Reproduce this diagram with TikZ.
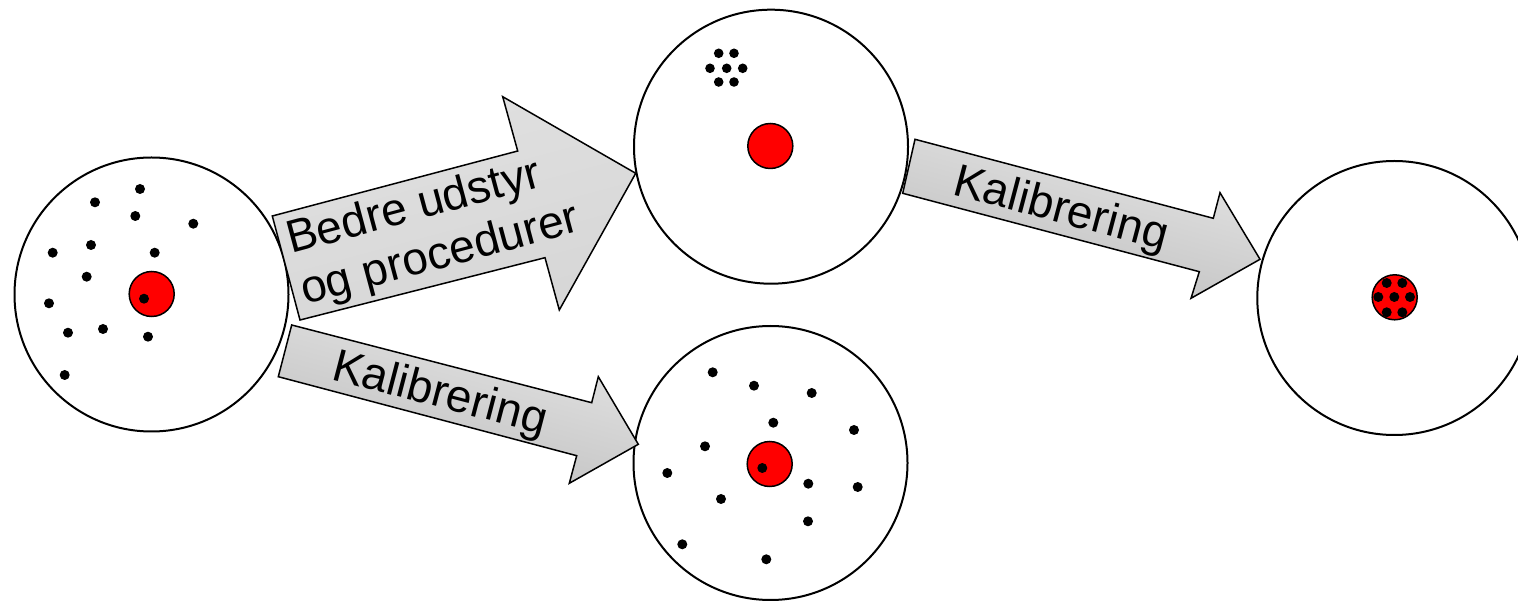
\documentclass[tikz,border=0pt]{standalone}
\usepackage{fontspec}
\setmainfont{Liberation Sans}
\begin{document}
\begin{tikzpicture}[x=1pt,y=1pt,
  target/.style={circle,draw=black,line width=2pt,fill=white,minimum size=274pt,inner sep=0pt},
  bull/.style={circle,draw=black,line width=1.5pt,fill=red,minimum size=45pt,inner sep=0pt},
  hit/.style={fill=black},
  blockarrow/.style={draw=black,line width=1.5pt,line join=miter},
  lbl/.style={inner sep=0pt,font=\fontsize{46}{54}\selectfont,anchor=base west}]
\useasboundingbox (0,0) rectangle (1518,600);
\clip (0,0) rectangle (1518,600);
% targets
\node[target] (c1) at (151.5,305.5) {};
\node[target] (c2) at (771,453.3) {};
\node[target] (c3) at (770.5,137) {};
\node[target] (c4) at (1394.3,302) {};
% bulls
\node[bull] (r1) at (151.7,306) {};
\node[bull] (r2) at (770.3,454) {};
\node[bull] (r3) at (769.7,136) {};
\node[bull] (r4) at (1394.7,302.7) {};
% hits, target 1
\foreach \p in {(140,411),(95,397.7),(135.3,384),(193.3,376.3),(52.7,347.3),(91,355),
  (154.7,347.3),(86.7,323.3),(49,296.7),(68,267.3),(103,271),(148,263.3),(64.7,225),(144,301.3)}
  \fill[hit] \p circle (5);
% hits, target 2 (cluster)
\foreach \p in {(718.7,546.7),(734,546.7),(710,531.7),(726.7,531.7),(742.7,531.7),(718.7,518),(734,518)}
  \fill[hit] \p circle (4.8);
% hits, target 3
\foreach \p in {(712.7,227.7),(754,214.3),(811.7,207),(773.3,177.3),(854,170),(705,153.7),
  (667.3,127),(808.3,116.3),(857.7,113),(721,101),(808,78.7),(682.3,55.7),(766.3,40.7),(762.3,132)}
  \fill[hit] \p circle (5);
% hits, target 4
\foreach \p in {(1386.7,317),(1402.3,317),(1378.3,303),(1394.3,303),(1410,303),(1386.7,287.7),(1402.3,287.7)}
  \fill[hit] \p circle (5);
% arrow 1: Bedre udstyr og procedurer
\coordinate (a1tl) at (272.3,384);
\coordinate (a1bl) at (300,280);
\coordinate (a1st) at (517.7,449);
\coordinate (a1ht) at (502.7,503.3);
\coordinate (a1tip) at (635.7,426.7);
\coordinate (a1hb) at (559.3,290);
\coordinate (a1sb) at (545,342.3);
\draw[blockarrow,top color=black!12,middle color=black!4,bottom color=black!16,shading angle=15]
  (a1tl) -- (a1st) -- (a1ht) -- (a1tip) -- (a1hb) -- (a1sb) -- (a1bl) -- cycle;
\node[lbl,rotate=15] (t1a) at (291,346) {Bedre udstyr};
\node[lbl,rotate=15] (t1b) at (305,295) {og procedurer};
% arrow 2: Kalibrering (top right)
\coordinate (a2tl) at (915,460.7);
\coordinate (a2bl) at (902.7,406.7);
\coordinate (a2sb) at (1199.3,328.3);
\coordinate (a2hb) at (1191,301.7);
\coordinate (a2tip) at (1260,340.7);
\coordinate (a2ht) at (1220,407.3);
\coordinate (a2st) at (1213.3,381.7);
\draw[blockarrow,top color=black!10,bottom color=black!26,shading angle=-15]
  (a2tl) -- (a2st) -- (a2ht) -- (a2tip) -- (a2hb) -- (a2sb) -- (a2bl) -- cycle;
\node[lbl,rotate=-14.8] (t2) at (951,406) {Kalibrering};
% arrow 3: Kalibrering (bottom)
\coordinate (a3tl) at (291.7,275);
\coordinate (a3bl) at (278.3,223.3);
\coordinate (a3sb) at (576.7,144.3);
\coordinate (a3hb) at (569.3,116.7);
\coordinate (a3tip) at (638.3,155.7);
\coordinate (a3ht) at (598.3,223.3);
\coordinate (a3st) at (591.7,197.3);
\draw[blockarrow,top color=black!10,bottom color=black!26,shading angle=-15]
  (a3tl) -- (a3st) -- (a3ht) -- (a3tip) -- (a3hb) -- (a3sb) -- (a3bl) -- cycle;
\node[lbl,rotate=-14.6] (t3) at (330,221) {Kalibrering};
\end{tikzpicture}
\end{document}
